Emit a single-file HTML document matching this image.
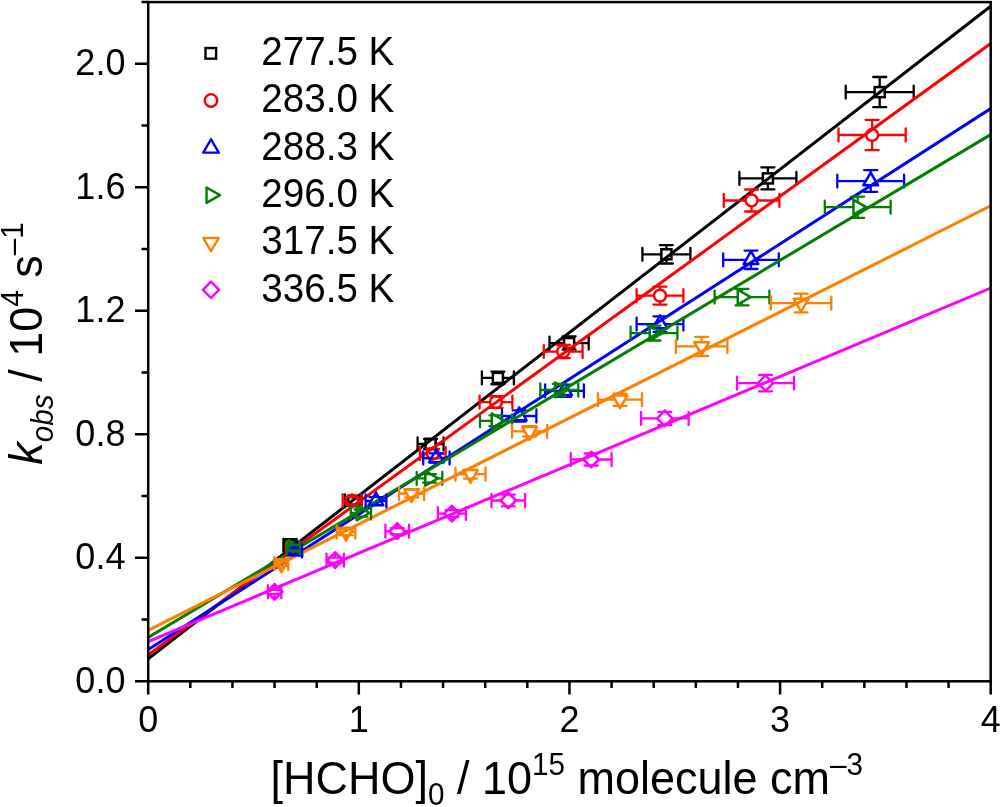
<!DOCTYPE html>
<html><head><meta charset="utf-8"><title>k_obs vs [HCHO]</title>
<style>html,body{margin:0;padding:0;background:#fff;}body{width:1000px;height:807px;position:relative;overflow:hidden;font-family:"Liberation Sans",sans-serif;}</style>
</head><body>
<svg width="1000" height="807" viewBox="0 0 1000 807" style="position:absolute;left:0;top:0;will-change:transform">
<rect x="0" y="0" width="1000" height="807" fill="#ffffff"/>
<defs><clipPath id="pc"><rect x="148.2" y="2.1" width="842.5" height="679.1999999999999"/></clipPath></defs>
<g>
<path d="M417.60 444.00H425.55M435.65 444.00H443.60M417.60 437.50V450.50M443.60 437.50V450.50M430.60 439.02V438.95M430.60 449.05V448.98M424.10 439.02H437.10M424.10 448.98H437.10" fill="none" stroke="#000000" stroke-width="2.3" stroke-linecap="round"/>
<rect x="425.55" y="438.95" width="10.10" height="10.10" fill="none" stroke="#000000" stroke-width="2.5"/>
<path d="M481.90 377.90H492.85M502.95 377.90H513.90M481.90 371.40V384.40M513.90 371.40V384.40M497.90 371.53V372.85M497.90 382.95V384.27M491.40 371.53H504.40M491.40 384.27H504.40" fill="none" stroke="#000000" stroke-width="2.3" stroke-linecap="round"/>
<rect x="492.85" y="372.85" width="10.10" height="10.10" fill="none" stroke="#000000" stroke-width="2.5"/>
<path d="M549.50 343.10H564.05M574.15 343.10H588.70M549.50 336.60V349.60M588.70 336.60V349.60M569.10 336.50V338.05M569.10 348.15V349.70M562.60 336.50H575.60M562.60 349.70H575.60" fill="none" stroke="#000000" stroke-width="2.3" stroke-linecap="round"/>
<rect x="564.05" y="338.05" width="10.10" height="10.10" fill="none" stroke="#000000" stroke-width="2.5"/>
<path d="M642.40 254.30H661.35M671.45 254.30H690.40M642.40 247.80V260.80M690.40 247.80V260.80M666.40 245.10V249.25M666.40 259.35V263.50M659.90 245.10H672.90M659.90 263.50H672.90" fill="none" stroke="#000000" stroke-width="2.3" stroke-linecap="round"/>
<rect x="661.35" y="249.25" width="10.10" height="10.10" fill="none" stroke="#000000" stroke-width="2.5"/>
<path d="M739.40 178.40H762.85M772.95 178.40H796.40M739.40 171.90V184.90M796.40 171.90V184.90M767.90 167.40V173.35M767.90 183.45V189.40M761.40 167.40H774.40M761.40 189.40H774.40" fill="none" stroke="#000000" stroke-width="2.3" stroke-linecap="round"/>
<rect x="762.85" y="173.35" width="10.10" height="10.10" fill="none" stroke="#000000" stroke-width="2.5"/>
<path d="M845.70 92.10H874.65M884.75 92.10H913.70M845.70 85.60V98.60M913.70 85.60V98.60M879.70 77.00V87.05M879.70 97.15V107.20M873.20 77.00H886.20M873.20 107.20H886.20" fill="none" stroke="#000000" stroke-width="2.3" stroke-linecap="round"/>
<rect x="874.65" y="87.05" width="10.10" height="10.10" fill="none" stroke="#000000" stroke-width="2.5"/>
<line clip-path="url(#pc)" x1="148.2" y1="658.8" x2="990.7" y2="6.3" stroke="#000000" stroke-width="3.0"/>
</g>
<g>
<path d="M420.00 453.60H426.85M438.75 453.60H445.60M420.00 447.10V460.10M445.60 447.10V460.10M432.80 448.82V447.65M432.80 459.55V458.38M426.30 448.82H439.30M426.30 458.38H439.30" fill="none" stroke="#ff0000" stroke-width="2.3" stroke-linecap="round"/>
<circle cx="432.80" cy="453.60" r="5.95" fill="none" stroke="#ff0000" stroke-width="2.5"/>
<path d="M479.60 402.10H490.05M501.95 402.10H512.40M479.60 395.60V408.60M512.40 395.60V408.60M496.00 396.24V396.15M496.00 408.05V407.96M489.50 396.24H502.50M489.50 407.96H502.50" fill="none" stroke="#ff0000" stroke-width="2.3" stroke-linecap="round"/>
<circle cx="496.00" cy="402.10" r="5.95" fill="none" stroke="#ff0000" stroke-width="2.5"/>
<path d="M543.80 351.60H557.25M569.15 351.60H582.60M543.80 345.10V358.10M582.60 345.10V358.10M563.20 345.00V345.65M563.20 357.55V358.20M556.70 345.00H569.70M556.70 358.20H569.70" fill="none" stroke="#ff0000" stroke-width="2.3" stroke-linecap="round"/>
<circle cx="563.20" cy="351.60" r="5.95" fill="none" stroke="#ff0000" stroke-width="2.5"/>
<path d="M636.60 295.60H654.05M665.95 295.60H683.40M636.60 289.10V302.10M683.40 289.10V302.10M660.00 286.60V289.65M660.00 301.55V304.60M653.50 286.60H666.50M653.50 304.60H666.50" fill="none" stroke="#ff0000" stroke-width="2.3" stroke-linecap="round"/>
<circle cx="660.00" cy="295.60" r="5.95" fill="none" stroke="#ff0000" stroke-width="2.5"/>
<path d="M723.80 200.50H745.65M757.55 200.50H779.40M723.80 194.00V207.00M779.40 194.00V207.00M751.60 189.50V194.55M751.60 206.45V211.50M745.10 189.50H758.10M745.10 211.50H758.10" fill="none" stroke="#ff0000" stroke-width="2.3" stroke-linecap="round"/>
<circle cx="751.60" cy="200.50" r="5.95" fill="none" stroke="#ff0000" stroke-width="2.5"/>
<path d="M838.50 135.00H866.15M878.05 135.00H905.70M838.50 128.50V141.50M905.70 128.50V141.50M872.10 119.80V129.05M872.10 140.95V150.20M865.60 119.80H878.60M865.60 150.20H878.60" fill="none" stroke="#ff0000" stroke-width="2.3" stroke-linecap="round"/>
<circle cx="872.10" cy="135.00" r="5.95" fill="none" stroke="#ff0000" stroke-width="2.5"/>
<line clip-path="url(#pc)" x1="148.2" y1="654.7" x2="990.7" y2="43.5" stroke="#ff0000" stroke-width="3.0"/>
</g>
<g>
<path d="M423.20 458.00H431.50M441.30 458.00H449.60M423.20 451.50V464.50M449.60 451.50V464.50M436.40 453.31V449.50M436.40 462.25V462.69M429.90 453.31H442.90M429.90 462.69H442.90" fill="none" stroke="#0000ff" stroke-width="2.3" stroke-linecap="round"/>
<polygon points="436.40,449.50 429.04,462.25 443.76,462.25" fill="none" stroke="#0000ff" stroke-width="2.5" stroke-linejoin="round"/>
<path d="M502.00 416.00H514.30M524.10 416.00H536.40M502.00 409.50V422.50M536.40 409.50V422.50M519.20 410.43V407.50M519.20 420.25V421.57M512.70 410.43H525.70M512.70 421.57H525.70" fill="none" stroke="#0000ff" stroke-width="2.3" stroke-linecap="round"/>
<polygon points="519.20,407.50 511.84,420.25 526.56,420.25" fill="none" stroke="#0000ff" stroke-width="2.5" stroke-linejoin="round"/>
<path d="M545.10 390.80H559.60M569.40 390.80H583.90M545.10 384.30V397.30M583.90 384.30V397.30M564.50 384.70V382.30M564.50 395.05V396.90M558.00 384.70H571.00M558.00 396.90H571.00" fill="none" stroke="#0000ff" stroke-width="2.3" stroke-linecap="round"/>
<polygon points="564.50,382.30 557.14,395.05 571.86,395.05" fill="none" stroke="#0000ff" stroke-width="2.5" stroke-linejoin="round"/>
<path d="M636.60 324.10H655.10M664.90 324.10H683.40M636.60 317.60V330.60M683.40 317.60V330.60M660.00 316.30V315.60M660.00 328.35V331.90M653.50 316.30H666.50M653.50 331.90H666.50" fill="none" stroke="#0000ff" stroke-width="2.3" stroke-linecap="round"/>
<polygon points="660.00,315.60 652.64,328.35 667.36,328.35" fill="none" stroke="#0000ff" stroke-width="2.5" stroke-linejoin="round"/>
<path d="M723.20 259.80H746.10M755.90 259.80H778.80M723.20 253.30V266.30M778.80 253.30V266.30M751.00 250.60V251.30M751.00 264.05V269.00M744.50 250.60H757.50M744.50 269.00H757.50" fill="none" stroke="#0000ff" stroke-width="2.3" stroke-linecap="round"/>
<polygon points="751.00,251.30 743.64,264.05 758.36,264.05" fill="none" stroke="#0000ff" stroke-width="2.5" stroke-linejoin="round"/>
<path d="M837.30 181.05H865.80M875.60 181.05H904.10M837.30 174.55V187.55M904.10 174.55V187.55M870.70 170.15V172.55M870.70 185.30V191.95M864.20 170.15H877.20M864.20 191.95H877.20" fill="none" stroke="#0000ff" stroke-width="2.3" stroke-linecap="round"/>
<polygon points="870.70,172.55 863.34,185.30 878.06,185.30" fill="none" stroke="#0000ff" stroke-width="2.5" stroke-linejoin="round"/>
<line clip-path="url(#pc)" x1="148.2" y1="649.6" x2="990.7" y2="108.6" stroke="#0000ff" stroke-width="3.0"/>
</g>
<g>
<path d="M416.70 478.40H425.25M438.00 478.40H442.30M416.70 471.90V484.90M442.30 471.90V484.90M429.50 474.14V473.50M429.50 483.30V482.66M423.00 474.14H436.00M423.00 482.66H436.00" fill="none" stroke="#007f00" stroke-width="2.3" stroke-linecap="round"/>
<polygon points="438.00,478.40 425.25,471.04 425.25,485.76" fill="none" stroke="#007f00" stroke-width="2.5" stroke-linejoin="round"/>
<path d="M480.00 420.80H491.75M504.50 420.80H512.00M480.00 414.30V427.30M512.00 414.30V427.30M496.00 415.33V415.90M496.00 425.70V426.27M489.50 415.33H502.50M489.50 426.27H502.50" fill="none" stroke="#007f00" stroke-width="2.3" stroke-linecap="round"/>
<polygon points="504.50,420.80 491.75,413.44 491.75,428.16" fill="none" stroke="#007f00" stroke-width="2.5" stroke-linejoin="round"/>
<path d="M540.30 390.00H555.05M567.80 390.00H578.30M540.30 383.50V396.50M578.30 383.50V396.50M559.30 383.88V385.10M559.30 394.90V396.12M552.80 383.88H565.80M552.80 396.12H565.80" fill="none" stroke="#007f00" stroke-width="2.3" stroke-linecap="round"/>
<polygon points="567.80,390.00 555.05,382.64 555.05,397.36" fill="none" stroke="#007f00" stroke-width="2.5" stroke-linejoin="round"/>
<path d="M630.60 333.10H649.75M662.50 333.10H677.40M630.60 326.60V339.60M677.40 326.60V339.60M654.00 325.70V328.20M654.00 338.00V340.50M647.50 325.70H660.50M647.50 340.50H660.50" fill="none" stroke="#007f00" stroke-width="2.3" stroke-linecap="round"/>
<polygon points="662.50,333.10 649.75,325.74 649.75,340.46" fill="none" stroke="#007f00" stroke-width="2.5" stroke-linejoin="round"/>
<path d="M714.60 297.10H737.75M750.50 297.10H769.40M714.60 290.60V303.60M769.40 290.60V303.60M742.00 288.90V292.20M742.00 302.00V305.30M735.50 288.90H748.50M735.50 305.30H748.50" fill="none" stroke="#007f00" stroke-width="2.3" stroke-linecap="round"/>
<polygon points="750.50,297.10 737.75,289.74 737.75,304.46" fill="none" stroke="#007f00" stroke-width="2.5" stroke-linejoin="round"/>
<path d="M824.80 207.20H853.45M866.20 207.20H890.60M824.80 200.70V213.70M890.60 200.70V213.70M857.70 196.60V202.30M857.70 212.10V217.80M851.20 196.60H864.20M851.20 217.80H864.20" fill="none" stroke="#007f00" stroke-width="2.3" stroke-linecap="round"/>
<polygon points="866.20,207.20 853.45,199.84 853.45,214.56" fill="none" stroke="#007f00" stroke-width="2.5" stroke-linejoin="round"/>
<line clip-path="url(#pc)" x1="148.2" y1="637.4" x2="990.7" y2="134.6" stroke="#007f00" stroke-width="3.0"/>
</g>
<g>
<path d="M399.10 493.50H406.70M416.50 493.50H424.10M399.10 487.00V500.00M424.10 487.00V500.00M411.60 489.56V489.25M411.60 502.00V497.44M405.10 489.56H418.10M405.10 497.44H418.10" fill="none" stroke="#ff7f00" stroke-width="2.3" stroke-linecap="round"/>
<polygon points="411.60,502.00 404.24,489.25 418.96,489.25" fill="none" stroke="#ff7f00" stroke-width="2.5" stroke-linejoin="round"/>
<path d="M455.50 474.20H465.60M475.40 474.20H485.50M455.50 467.70V480.70M485.50 467.70V480.70M470.50 469.85V469.95M470.50 482.70V478.55M464.00 469.85H477.00M464.00 478.55H477.00" fill="none" stroke="#ff7f00" stroke-width="2.3" stroke-linecap="round"/>
<polygon points="470.50,482.70 463.14,469.95 477.86,469.95" fill="none" stroke="#ff7f00" stroke-width="2.5" stroke-linejoin="round"/>
<path d="M512.00 431.30H524.70M534.50 431.30H547.20M512.00 424.80V437.80M547.20 424.80V437.80M529.60 426.05V427.05M529.60 439.80V436.55M523.10 426.05H536.10M523.10 436.55H536.10" fill="none" stroke="#ff7f00" stroke-width="2.3" stroke-linecap="round"/>
<polygon points="529.60,439.80 522.24,427.05 536.96,427.05" fill="none" stroke="#ff7f00" stroke-width="2.5" stroke-linejoin="round"/>
<path d="M598.00 399.70H615.10M624.90 399.70H642.00M598.00 393.20V406.20M642.00 393.20V406.20M620.00 393.60V395.45M620.00 408.20V405.80M613.50 393.60H626.50M613.50 405.80H626.50" fill="none" stroke="#ff7f00" stroke-width="2.3" stroke-linecap="round"/>
<polygon points="620.00,408.20 612.64,395.45 627.36,395.45" fill="none" stroke="#ff7f00" stroke-width="2.5" stroke-linejoin="round"/>
<path d="M675.80 346.40H696.70M706.50 346.40H727.40M675.80 339.90V352.90M727.40 339.90V352.90M701.60 336.80V342.15M701.60 354.90V356.00M695.10 336.80H708.10M695.10 356.00H708.10" fill="none" stroke="#ff7f00" stroke-width="2.3" stroke-linecap="round"/>
<polygon points="701.60,354.90 694.24,342.15 708.96,342.15" fill="none" stroke="#ff7f00" stroke-width="2.5" stroke-linejoin="round"/>
<path d="M770.90 303.05H796.20M806.00 303.05H831.30M770.90 296.55V309.55M831.30 296.55V309.55M801.10 293.65V298.80M801.10 311.55V312.45M794.60 293.65H807.60M794.60 312.45H807.60" fill="none" stroke="#ff7f00" stroke-width="2.3" stroke-linecap="round"/>
<polygon points="801.10,311.55 793.74,298.80 808.46,298.80" fill="none" stroke="#ff7f00" stroke-width="2.5" stroke-linejoin="round"/>
<line clip-path="url(#pc)" x1="148.2" y1="630.3" x2="990.7" y2="205.8" stroke="#ff7f00" stroke-width="3.0"/>
</g>
<g>
<path d="M385.40 531.20H389.50M404.90 531.20H409.00M385.40 524.70V537.70M409.00 524.70V537.70M397.20 528.05V523.50M397.20 538.90V534.35M390.70 528.05H403.70M390.70 534.35H403.70" fill="none" stroke="#ff00ff" stroke-width="2.3" stroke-linecap="round"/>
<polygon points="397.20,523.50 404.90,531.20 397.20,538.90 389.50,531.20" fill="none" stroke="#ff00ff" stroke-width="2.5" stroke-linejoin="round"/>
<path d="M437.90 513.60H444.20M459.60 513.60H465.90M437.90 507.10V520.10M465.90 507.10V520.10M451.90 510.08V505.90M451.90 521.30V517.12M445.40 510.08H458.40M445.40 517.12H458.40" fill="none" stroke="#ff00ff" stroke-width="2.3" stroke-linecap="round"/>
<polygon points="451.90,505.90 459.60,513.60 451.90,521.30 444.20,513.60" fill="none" stroke="#ff00ff" stroke-width="2.5" stroke-linejoin="round"/>
<path d="M491.50 500.50H500.60M516.00 500.50H525.10M491.50 494.00V507.00M525.10 494.00V507.00M508.30 494.70V492.80M508.30 508.20V506.30M501.80 494.70H514.80M501.80 506.30H514.80" fill="none" stroke="#ff00ff" stroke-width="2.3" stroke-linecap="round"/>
<polygon points="508.30,492.80 516.00,500.50 508.30,508.20 500.60,500.50" fill="none" stroke="#ff00ff" stroke-width="2.5" stroke-linejoin="round"/>
<path d="M570.80 459.50H583.50M598.90 459.50H611.60M570.80 453.00V466.00M611.60 453.00V466.00M591.20 453.50V451.80M591.20 467.20V465.50M584.70 453.50H597.70M584.70 465.50H597.70" fill="none" stroke="#ff00ff" stroke-width="2.3" stroke-linecap="round"/>
<polygon points="591.20,451.80 598.90,459.50 591.20,467.20 583.50,459.50" fill="none" stroke="#ff00ff" stroke-width="2.5" stroke-linejoin="round"/>
<path d="M641.00 418.40H657.10M672.50 418.40H688.60M641.00 411.90V424.90M688.60 411.90V424.90M664.80 411.80V410.70M664.80 426.10V425.00M658.30 411.80H671.30M658.30 425.00H671.30" fill="none" stroke="#ff00ff" stroke-width="2.3" stroke-linecap="round"/>
<polygon points="664.80,410.70 672.50,418.40 664.80,426.10 657.10,418.40" fill="none" stroke="#ff00ff" stroke-width="2.5" stroke-linejoin="round"/>
<path d="M737.00 383.10H757.80M773.20 383.10H794.00M737.00 376.60V389.60M794.00 376.60V389.60M765.50 374.90V375.40M765.50 390.80V391.30M759.00 374.90H772.00M759.00 391.30H772.00" fill="none" stroke="#ff00ff" stroke-width="2.3" stroke-linecap="round"/>
<polygon points="765.50,375.40 773.20,383.10 765.50,390.80 757.80,383.10" fill="none" stroke="#ff00ff" stroke-width="2.5" stroke-linejoin="round"/>
<line clip-path="url(#pc)" x1="148.2" y1="641.5" x2="990.7" y2="288.1" stroke="#ff00ff" stroke-width="3.0"/>
</g>
<g>
<path d="M283.40 545.30H285.00M295.10 545.30H296.70M283.40 538.80V551.80M296.70 538.80V551.80M290.05 539.20V540.25M290.05 550.35V551.40M283.55 539.20H296.55M283.55 551.40H296.55" fill="none" stroke="#000000" stroke-width="2.3" stroke-linecap="round"/>
<rect x="285.00" y="540.25" width="10.10" height="10.10" fill="none" stroke="#000000" stroke-width="2.5"/>
<path d="M345.00 500.80H348.25M358.35 500.80H361.60M345.00 494.30V507.30M361.60 494.30V507.30M353.30 497.01V495.75M353.30 505.85V504.59M346.80 497.01H359.80M346.80 504.59H359.80" fill="none" stroke="#000000" stroke-width="2.3" stroke-linecap="round"/>
<rect x="348.25" y="495.75" width="10.10" height="10.10" fill="none" stroke="#000000" stroke-width="2.5"/>
<path d="M285.85 549.50H286.65M298.55 549.50H299.35M285.85 543.00V556.00M299.35 543.00V556.00M292.60 546.70V543.55M292.60 555.45V552.30M286.10 546.70H299.10M286.10 552.30H299.10" fill="none" stroke="#ff0000" stroke-width="2.3" stroke-linecap="round"/>
<circle cx="292.60" cy="549.50" r="5.95" fill="none" stroke="#ff0000" stroke-width="2.5"/>
<path d="M342.70 500.70H346.10M358.00 500.70H361.40M342.70 494.20V507.20M361.40 494.20V507.20M352.05 497.15V494.75M352.05 506.65V504.25M345.55 497.15H358.55M345.55 504.25H358.55" fill="none" stroke="#ff0000" stroke-width="2.3" stroke-linecap="round"/>
<circle cx="352.05" cy="500.70" r="5.95" fill="none" stroke="#ff0000" stroke-width="2.5"/>
<polygon points="301.80,547.70 289.05,540.34 289.05,555.06" fill="none" stroke="#007f00" stroke-width="2.5" stroke-linejoin="round"/>
<polygon points="369.40,513.00 356.65,505.64 356.65,520.36" fill="none" stroke="#007f00" stroke-width="2.5" stroke-linejoin="round"/>
<path d="M288.00 551.00H290.10M299.90 551.00H302.00M288.00 544.50V557.50M302.00 544.50V557.50M295.00 548.26V542.50M295.00 555.25V553.74M288.50 548.26H301.50M288.50 553.74H301.50" fill="none" stroke="#0000ff" stroke-width="2.3" stroke-linecap="round"/>
<polygon points="295.00,542.50 287.64,555.25 302.36,555.25" fill="none" stroke="#0000ff" stroke-width="2.5" stroke-linejoin="round"/>
<path d="M365.60 501.00H371.10M380.90 501.00H386.40M365.60 494.50V507.50M386.40 494.50V507.50M376.00 497.21V492.50M376.00 505.25V504.79M369.50 497.21H382.50M369.50 504.79H382.50" fill="none" stroke="#0000ff" stroke-width="2.3" stroke-linecap="round"/>
<polygon points="376.00,492.50 368.64,505.25 383.36,505.25" fill="none" stroke="#0000ff" stroke-width="2.5" stroke-linejoin="round"/>
<path d="M286.70 547.70H289.05M286.70 541.20V554.20M299.90 541.20V554.20M293.30 544.89V542.80M293.30 552.60V550.51M286.80 544.89H299.80M286.80 550.51H299.80" fill="none" stroke="#007f00" stroke-width="2.3" stroke-linecap="round"/>
<path d="M350.80 513.00H356.65M369.40 513.00H371.00M350.80 506.50V519.50M371.00 506.50V519.50M360.90 509.47V508.10M360.90 517.90V516.53M354.40 509.47H367.40M354.40 516.53H367.40" fill="none" stroke="#007f00" stroke-width="2.3" stroke-linecap="round"/>
<path d="M274.60 563.60H276.50M286.30 563.60H288.20M274.60 557.10V570.10M288.20 557.10V570.10M281.40 561.13V559.35M281.40 572.10V566.07M274.90 561.13H287.90M274.90 566.07H287.90" fill="none" stroke="#ff7f00" stroke-width="2.3" stroke-linecap="round"/>
<polygon points="281.40,572.10 274.04,559.35 288.76,559.35" fill="none" stroke="#ff7f00" stroke-width="2.5" stroke-linejoin="round"/>
<path d="M336.70 532.00H341.10M350.90 532.00H355.30M336.70 525.50V538.50M355.30 525.50V538.50M346.00 528.86V527.75M346.00 540.50V535.14M339.50 528.86H352.50M339.50 535.14H352.50" fill="none" stroke="#ff7f00" stroke-width="2.3" stroke-linecap="round"/>
<polygon points="346.00,540.50 338.64,527.75 353.36,527.75" fill="none" stroke="#ff7f00" stroke-width="2.5" stroke-linejoin="round"/>
<path d="M267.90 585.30V598.30M281.30 585.30V598.30M274.60 589.80V584.10M274.60 599.50V593.80M268.10 589.80H281.10M268.10 593.80H281.10" fill="none" stroke="#ff00ff" stroke-width="2.3" stroke-linecap="round"/>
<polygon points="274.60,584.10 282.30,591.80 274.60,599.50 266.90,591.80" fill="none" stroke="#ff00ff" stroke-width="2.5" stroke-linejoin="round"/>
<path d="M326.50 560.20H327.50M342.90 560.20H343.90M326.50 553.70V566.70M343.90 553.70V566.70M335.20 557.66V552.50M335.20 567.90V562.74M328.70 557.66H341.70M328.70 562.74H341.70" fill="none" stroke="#ff00ff" stroke-width="2.3" stroke-linecap="round"/>
<polygon points="335.20,552.50 342.90,560.20 335.20,567.90 327.50,560.20" fill="none" stroke="#ff00ff" stroke-width="2.5" stroke-linejoin="round"/>
</g>
<rect x="148.2" y="2.1" width="842.50" height="679.20" fill="none" stroke="#000" stroke-width="2.5"/>
<path d="M148.20 681.3v13.2M190.32 681.3v6.7M232.45 681.3v6.7M274.57 681.3v6.7M316.70 681.3v6.7M358.82 681.3v13.2M400.95 681.3v6.7M443.07 681.3v6.7M485.20 681.3v6.7M527.33 681.3v6.7M569.45 681.3v13.2M611.58 681.3v6.7M653.70 681.3v6.7M695.83 681.3v6.7M737.95 681.3v6.7M780.08 681.3v13.2M822.20 681.3v6.7M864.33 681.3v6.7M906.45 681.3v6.7M948.58 681.3v6.7M990.70 681.3v13.2M148.2 681.30h-13.2M148.2 619.55h-6.7M148.2 557.81h-13.2M148.2 496.06h-6.7M148.2 434.32h-13.2M148.2 372.57h-6.7M148.2 310.83h-13.2M148.2 249.08h-6.7M148.2 187.34h-13.2M148.2 125.59h-6.7M148.2 63.85h-13.2M148.2 2.10h-6.7" stroke="#000" stroke-width="2.5" fill="none"/>
<g font-family="Liberation Sans, sans-serif" font-size="36" fill="#000">
<text transform="translate(125.4,692.60) scale(1,1.04)" text-anchor="end">0.0</text>
<text transform="translate(125.4,569.11) scale(1,1.04)" text-anchor="end">0.4</text>
<text transform="translate(125.4,445.62) scale(1,1.04)" text-anchor="end">0.8</text>
<text transform="translate(125.4,322.13) scale(1,1.04)" text-anchor="end">1.2</text>
<text transform="translate(125.4,198.64) scale(1,1.04)" text-anchor="end">1.6</text>
<text transform="translate(125.4,75.15) scale(1,1.04)" text-anchor="end">2.0</text>
<text transform="translate(148.20,731.6) scale(1,1.04)" text-anchor="middle">0</text>
<text transform="translate(358.82,731.6) scale(1,1.04)" text-anchor="middle">1</text>
<text transform="translate(569.45,731.6) scale(1,1.04)" text-anchor="middle">2</text>
<text transform="translate(780.08,731.6) scale(1,1.04)" text-anchor="middle">3</text>
<text transform="translate(990.70,731.6) scale(1,1.04)" text-anchor="middle">4</text>
</g>
<g font-family="Liberation Sans, sans-serif" font-size="38.6" fill="#000">
<rect x="205.50" y="48.05" width="10.61" height="10.61" fill="none" stroke="#000000" stroke-width="2.4"/>
<text transform="translate(261.3,65.00) scale(1,1.04)">277.5 K</text>
<circle cx="211.00" cy="100.45" r="6.25" fill="none" stroke="#ff0000" stroke-width="2.4"/>
<text transform="translate(261.3,112.30) scale(1,1.04)">283.0 K</text>
<polygon points="211.00,139.27 203.27,152.66 218.73,152.66" fill="none" stroke="#0000ff" stroke-width="2.4" stroke-linejoin="round"/>
<text transform="translate(261.3,159.60) scale(1,1.04)">288.3 K</text>
<polygon points="219.93,195.15 206.54,187.42 206.54,202.88" fill="none" stroke="#007f00" stroke-width="2.4" stroke-linejoin="round"/>
<text transform="translate(261.3,206.90) scale(1,1.04)">296.0 K</text>
<polygon points="211.00,251.23 203.27,237.84 218.73,237.84" fill="none" stroke="#ff7f00" stroke-width="2.4" stroke-linejoin="round"/>
<text transform="translate(261.3,254.20) scale(1,1.04)">317.5 K</text>
<polygon points="211.00,281.72 219.09,289.80 211.00,297.88 202.91,289.80" fill="none" stroke="#ff00ff" stroke-width="2.4" stroke-linejoin="round"/>
<text transform="translate(261.3,301.50) scale(1,1.04)">336.5 K</text>
</g>
<text id="xt" transform="translate(566.8,793.6) scale(1,1.04)" text-anchor="middle" font-family="Liberation Sans, sans-serif" font-size="45" fill="#000">[HCHO]<tspan font-size="29.7" dy="10.77">0</tspan><tspan dy="-10.77"> / 10</tspan><tspan font-size="29.7" dy="-18.08">15</tspan><tspan dy="18.08"> molecule cm</tspan><tspan font-size="29.7" dy="-18.08">–3</tspan></text>
<text id="yt" transform="translate(41.7,343.5) rotate(-90) scale(1,1.04)" text-anchor="middle" font-family="Liberation Sans, sans-serif" font-size="45" fill="#000"><tspan font-style="italic">k</tspan><tspan font-style="italic" font-size="29.7" dy="10.77">obs</tspan><tspan dy="-10.77"> / 10</tspan><tspan font-size="29.7" dy="-18.08">4</tspan><tspan dy="18.08"> s</tspan><tspan font-size="29.7" dy="-18.08">–1</tspan></text>
</svg>
</body></html>
